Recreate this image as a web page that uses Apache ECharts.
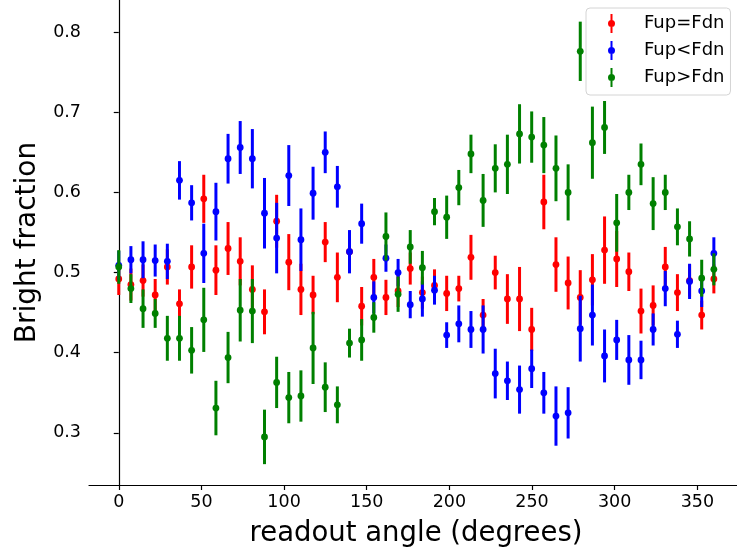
<!DOCTYPE html>
<html>
<head>
<meta charset="utf-8">
<script src="https://cdn.jsdelivr.net/npm/echarts@6/dist/echarts.min.js"></script>
<style>
html,body{margin:0;padding:0;background:#fff;}
#chart{width:737px;height:554px;}
</style>
</head>
<body>
<div id="chart"></div>
<script>
// readout angles (degrees)
const angles = [0, 7.35, 14.69, 22.04, 29.39, 36.73, 44.08, 51.43, 58.78, 66.12,
  73.47, 80.82, 88.16, 95.51, 102.86, 110.20, 117.55, 124.90, 132.24, 139.59,
  146.94, 154.29, 161.63, 168.98, 176.33, 183.67, 191.02, 198.37, 205.71, 213.06,
  220.41, 227.76, 235.10, 242.45, 249.80, 257.14, 264.49, 271.84, 279.18, 286.53,
  293.88, 301.22, 308.57, 315.92, 323.27, 330.61, 337.96, 345.31, 352.65, 360];

const seriesNames = ['Fup=Fdn', 'Fup<Fdn', 'Fup>Fdn'];

const eqVals = [0.492, 0.485, 0.490, 0.472, 0.507, 0.461, 0.507, 0.592, 0.503, 0.530,
  0.514, 0.479, 0.451, 0.564, 0.513, 0.479, 0.472, 0.538, 0.494, 0.526,
  0.458, 0.494, 0.469, 0.477, 0.505, 0.475, 0.484, 0.474, 0.480, 0.519,
  0.447, 0.500, 0.467, 0.467, 0.429, 0.588, 0.510, 0.487, 0.469, 0.491,
  0.528, 0.517, 0.501, 0.452, 0.459, 0.507, 0.475, 0.490, 0.447, 0.492];
const eqErr = [0.020, 0.020, 0.020, 0.020, 0.022, 0.018, 0.027, 0.030, 0.031, 0.033,
  0.030, 0.030, 0.028, 0.033, 0.035, 0.032, 0.024, 0.025, 0.031, 0.018,
  0.024, 0.023, 0.022, 0.020, 0.020, 0.020, 0.020, 0.022, 0.016, 0.028,
  0.020, 0.021, 0.031, 0.040, 0.027, 0.034, 0.034, 0.033, 0.034, 0.032,
  0.042, 0.035, 0.024, 0.028, 0.025, 0.025, 0.023, 0.020, 0.018, 0.018];

const ltVals = [0.509, 0.516, 0.516, 0.515, 0.514, 0.615, 0.587, 0.524, 0.576, 0.642,
  0.656, 0.642, 0.574, 0.543, 0.621, 0.541, 0.599, 0.650, 0.607, 0.526,
  0.561, 0.469, 0.518, 0.500, 0.460, 0.467, 0.478, 0.422, 0.436, 0.429,
  0.429, 0.374, 0.365, 0.354, 0.380, 0.350, 0.321, 0.325, 0.430, 0.447,
  0.396, 0.416, 0.391, 0.391, 0.429, 0.480, 0.423, 0.489, 0.477, 0.524];
const ltErr = [0.018, 0.017, 0.023, 0.020, 0.022, 0.024, 0.022, 0.037, 0.036, 0.031,
  0.033, 0.037, 0.044, 0.044, 0.038, 0.039, 0.033, 0.026, 0.026, 0.027,
  0.025, 0.020, 0.017, 0.017, 0.017, 0.022, 0.018, 0.016, 0.023, 0.023,
  0.030, 0.031, 0.024, 0.030, 0.024, 0.026, 0.037, 0.032, 0.041, 0.038,
  0.033, 0.025, 0.031, 0.024, 0.020, 0.022, 0.017, 0.022, 0.020, 0.020];

const gtVals = [0.507, 0.480, 0.455, 0.449, 0.418, 0.418, 0.403, 0.441, 0.331, 0.394,
  0.453, 0.452, 0.295, 0.363, 0.344, 0.346, 0.406, 0.357, 0.335, 0.412,
  0.416, 0.444, 0.545, 0.473, 0.532, 0.506, 0.576, 0.569, 0.606, 0.648,
  0.590, 0.630, 0.635, 0.673, 0.669, 0.659, 0.630, 0.600, 0.776, 0.662,
  0.681, 0.562, 0.600, 0.635, 0.586, 0.600, 0.557, 0.542, 0.493, 0.504];
const gtErr = [0.021, 0.018, 0.024, 0.018, 0.028, 0.028, 0.029, 0.040, 0.034, 0.032,
  0.039, 0.040, 0.034, 0.032, 0.032, 0.032, 0.045, 0.031, 0.023, 0.018,
  0.026, 0.019, 0.030, 0.022, 0.021, 0.021, 0.017, 0.027, 0.022, 0.024,
  0.033, 0.030, 0.037, 0.037, 0.032, 0.035, 0.041, 0.035, 0.037, 0.045,
  0.033, 0.036, 0.022, 0.026, 0.033, 0.022, 0.023, 0.022, 0.023, 0.020];

const xTicks = [0, 50, 100, 150, 200, 250, 300, 350];
const yTicks = [0.3, 0.4, 0.5, 0.6, 0.7, 0.8];

const colors = ['#ff0000', '#0000ff', '#008000'];
const FONT = 'DejaVu Sans';

function rows(vals, errs) {
  return angles.map((a, i) => [a, vals[i], errs[i]]);
}

function renderItem(params, api) {
  const x = api.value(0), y = api.value(1), e = api.value(2);
  const c = api.coord([x, y]);
  const lo = api.coord([x, y - e]);
  const hi = api.coord([x, y + e]);
  const color = api.visual('color');
  return {
    type: 'group',
    children: [
      {type: 'line', shape: {x1: c[0], y1: lo[1], x2: c[0], y2: hi[1]},
        style: {stroke: color, lineWidth: 3}},
      {type: 'circle', shape: {cx: c[0], cy: c[1], r: 3.4}, style: {fill: color}}
    ]
  };
}

const iconPath = 'path://M2.5,0 L4.5,0 L4.5,19 L2.5,19 Z M0,9.5 A3.5,3.5 0 1,1 7,9.5 A3.5,3.5 0 1,1 0,9.5 Z';

const datasets = [rows(eqVals, eqErr), rows(ltVals, ltErr), rows(gtVals, gtErr)];

const chart = echarts.init(document.getElementById('chart'), null, {renderer: 'canvas'});
chart.setOption({
  animation: false,
  backgroundColor: '#fff',
  textStyle: {fontFamily: FONT},
  grid: {left: 89, top: 0, right: 0, bottom: 69, containLabel: false},
  xAxis: {
    type: 'value', min: -18, max: 374,
    name: 'readout angle (degrees)', nameLocation: 'middle', nameGap: 35,
    nameTextStyle: {fontFamily: FONT, fontSize: 27.5, color: '#000', padding: [0, 0, 0, 6]},
    axisLine: {show: true, lineStyle: {color: '#000', width: 1.2}},
    axisTick: {show: true, length: 5, customValues: xTicks, lineStyle: {color: '#000', width: 1.2}},
    axisLabel: {customValues: xTicks, margin: 8, fontFamily: FONT, fontSize: 17.5, color: '#000'},
    splitLine: {show: false}
  },
  yAxis: {
    type: 'value', min: 0.235, max: 0.84,
    name: 'Bright fraction', nameLocation: 'middle', nameGap: 47,
    nameTextStyle: {fontFamily: FONT, fontSize: 28, color: '#000'},
    axisLine: {show: true, lineStyle: {color: '#000', width: 1.2}},
    axisTick: {show: true, length: 5, customValues: yTicks, lineStyle: {color: '#000', width: 1.2}},
    axisLabel: {customValues: yTicks, margin: 8, fontFamily: FONT, fontSize: 17.5, color: '#000',
      formatter: v => v.toFixed(1)},
    splitLine: {show: false}
  },
  legend: {
    orient: 'vertical', left: 586, top: 8,
    padding: [6, 6, 8, 22],
    itemWidth: 7, itemHeight: 19, itemGap: 8,
    backgroundColor: 'rgba(255,255,255,0.8)',
    borderColor: '#d4d4d4', borderWidth: 1, borderRadius: 4,
    textStyle: {fontFamily: FONT, fontSize: 18, color: '#000', lineHeight: 19, padding: [0, 0, 0, 24]},
    data: seriesNames.map(n => ({name: n, icon: iconPath}))
  },
  series: seriesNames.map((n, k) => ({
    name: n,
    type: 'custom',
    renderItem: renderItem,
    itemStyle: {color: colors[k]},
    encode: {x: 0, y: 1},
    data: datasets[k],
    z: 2 + k
  }))
});
</script>
</body>
</html>
